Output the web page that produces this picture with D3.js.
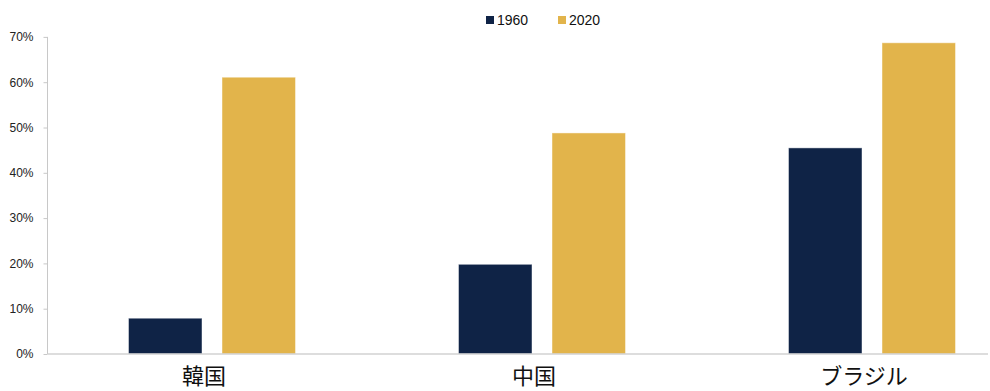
<!DOCTYPE html>
<html><head><meta charset="utf-8">
<script src="https://cdn.jsdelivr.net/npm/d3@7"></script>
<style>body{margin:0;background:#fff}svg{display:block}</style>
</head><body>
<svg id="c" width="990" height="391"></svg>
<script>
const categories = ["韓国", "中国", "ブラジル"];
const seriesNames = ["1960", "2020"];
const values1960 = [7.9, 19.8, 45.5];
const values2020 = [61.1, 48.8, 68.7];
const yTicks = [0, 10, 20, 30, 40, 50, 60, 70];
const colors = ["#0f2346", "#e2b44b"];

(function () {
const svg = d3.select("#c");
const plotLeft = 47.5, plotBottom = 354, plotTop = 36.9;
const y = d3.scaleLinear().domain([0, 70]).range([plotBottom, plotTop]);
const x0 = d3.scaleBand().domain(categories).range([47, 1037]).paddingInner(0).paddingOuter(0);
const groupW = 167;
const x1 = d3.scaleBand().domain(seriesNames).range([0, groupW]).paddingInner(0.214).paddingOuter(0);

const data = categories.map((c, i) => ({cat: c, vals: [values1960[i], values2020[i]]}));

// y axis
const yAxis = d3.axisLeft(y).tickValues(yTicks).tickFormat(d => d + "%").tickSize(4).tickPadding(10);
const ga = svg.append("g").attr("transform", `translate(${plotLeft},0)`).call(yAxis);
ga.select(".domain").attr("stroke", "#c8c8c8").attr("d", `M0,${plotTop}V${plotBottom}`);
ga.selectAll(".tick line").attr("stroke", "#c8c8c8");
ga.selectAll(".tick text").attr("fill", "#222").style("font-family", "'Liberation Sans', Arial, sans-serif").style("font-size", "12px");

// bars
const groups = svg.append("g").selectAll("g").data(data).join("g")
  .attr("transform", d => `translate(${x0(d.cat) + (x0.bandwidth() - groupW) / 2},0)`);
groups.selectAll("rect").data(d => d.vals.map((v, j) => ({s: seriesNames[j], v, j}))).join("rect")
  .attr("x", d => x1(d.s))
  .attr("width", x1.bandwidth())
  .attr("y", d => y(d.v))
  .attr("height", d => y(0) - y(d.v))
  .attr("fill", d => colors[d.j])
  .attr("stroke", "rgba(255,255,255,0.45)")
  .attr("stroke-width", 1);

// baseline
svg.append("line").attr("x1", plotLeft).attr("x2", 988).attr("y1", y(0)).attr("y2", y(0))
  .attr("stroke", "#d2d2d2").attr("stroke-width", 1.6);

// category labels
svg.append("g").selectAll("text").data(categories).join("text")
  .attr("x", d => x0(d) + x0.bandwidth() / 2 - 8)
  .attr("y", 384)
  .attr("text-anchor", "middle")
  .attr("fill", "#111")
  .style("font-family", "'Noto Sans CJK JP', sans-serif")
  .style("font-size", "22px")
  .text(d => d);

// legend
const legendX = [486, 558];
const lg = svg.append("g").selectAll("g").data(seriesNames).join("g")
  .attr("transform", (d, i) => `translate(${legendX[i]},0)`);
lg.append("rect").attr("x", 0).attr("y", 16).attr("width", 8).attr("height", 8).attr("fill", (d, i) => colors[i]);
lg.append("text").attr("x", 11).attr("y", 25).text(d => d)
  .attr("fill", "#111")
  .style("font-family", "'Liberation Sans', Arial, sans-serif")
  .style("font-size", "14px");
})();
</script>
</body></html>
